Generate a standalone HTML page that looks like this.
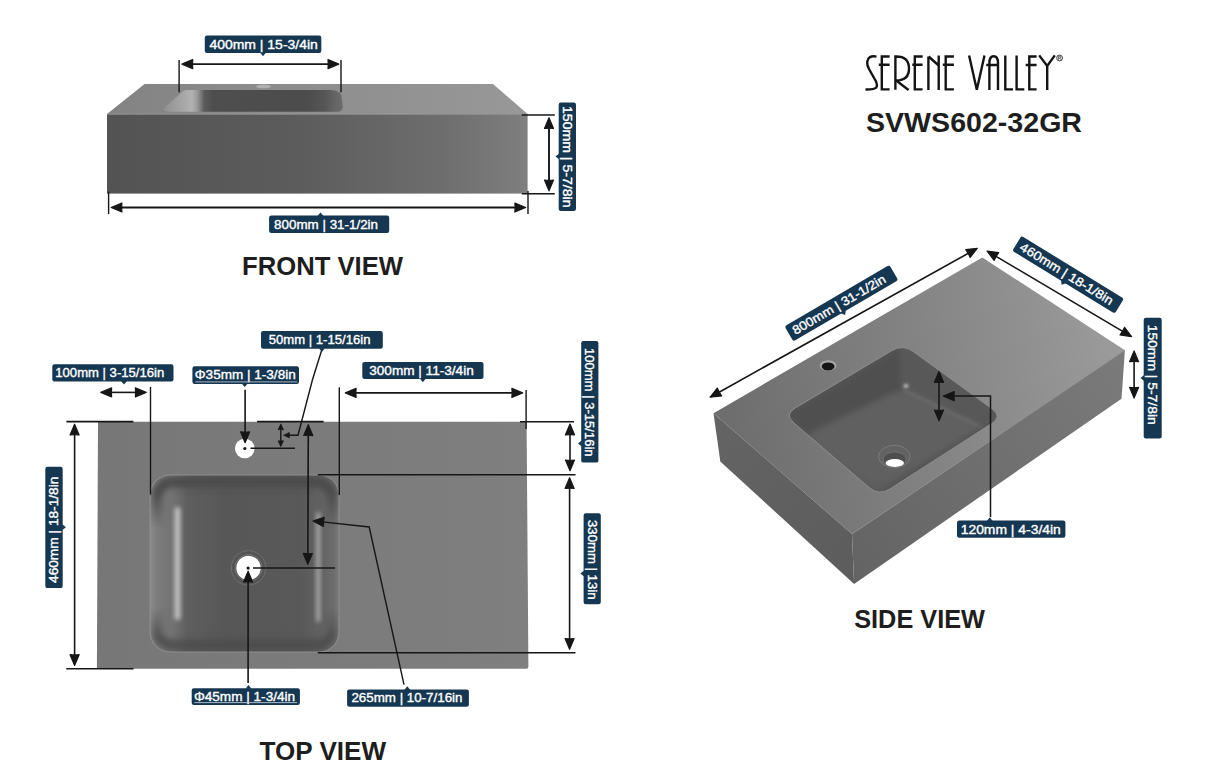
<!DOCTYPE html>
<html><head><meta charset="utf-8"><style>
html,body{margin:0;padding:0;background:#fff;width:1214px;height:782px;overflow:hidden}
svg{display:block}
text{font-family:"Liberation Sans",sans-serif}
</style></head><body>
<svg width="1214" height="782" viewBox="0 0 1214 782">

<defs>
 <linearGradient id="ftop" x1="107" y1="0" x2="527" y2="0" gradientUnits="userSpaceOnUse"><stop offset="0" stop-color="#838383"/><stop offset="0.5" stop-color="#8e8e8e"/><stop offset="1" stop-color="#989898"/></linearGradient>
 <linearGradient id="fbasin" x1="163" y1="0" x2="343" y2="0" gradientUnits="userSpaceOnUse">
  <stop offset="0" stop-color="#909090"/><stop offset="0.1" stop-color="#a4a4a4"/><stop offset="0.16" stop-color="#b2b2b2"/><stop offset="0.19" stop-color="#9a9a9a"/>
  <stop offset="0.23" stop-color="#5a5a5a"/><stop offset="0.28" stop-color="#4e4e4e"/><stop offset="0.8" stop-color="#4c4c4c"/><stop offset="0.9" stop-color="#565656"/><stop offset="0.96" stop-color="#666"/><stop offset="1" stop-color="#6c6c6c"/></linearGradient>
 <linearGradient id="fface" x1="0" y1="0" x2="1" y2="0"><stop offset="0" stop-color="#535353"/><stop offset="0.45" stop-color="#5c5c5c"/><stop offset="0.8" stop-color="#6e6e6e"/><stop offset="0.97" stop-color="#7c7c7c"/><stop offset="1" stop-color="#808080"/></linearGradient>
</defs>
<polygon points="144.6,84 493,84 527.6,114 107,114" fill="url(#ftop)"/>
<path d="M186.5 90.1 L330 90.1 Q340.5 90.5 341.5 96 L342.8 107 Q343 111.7 336.8 111.7 L169 111.7 Q161.5 111 164 108 L181 93 Q183.5 90.3 186.5 90.1Z" fill="url(#fbasin)"/>
<ellipse cx="263.5" cy="86.4" rx="7.5" ry="1.8" fill="#b0b0b0"/>
<rect x="107" y="114" width="420.6" height="79.6" fill="url(#fface)"/>
<line x1="107" y1="114.2" x2="527.6" y2="114.2" stroke="#9a9a9a" stroke-width="0.9"/>

<g stroke="#161616" fill="#161616">
<line x1="190.8" y1="64.1" x2="329.9" y2="64.1" stroke-width="1.9"/>
<path d="M181.92 64.1L192.72 59.58Q192.18 64.1 192.72 68.62Z" stroke-width="1.2" stroke-linejoin="round"/>
<path d="M338.78 64.1L327.98 68.62Q328.52 64.1 327.98 59.58Z" stroke-width="1.2" stroke-linejoin="round"/>
<line x1="179.1" y1="60" x2="179.1" y2="92.2" stroke-width="1.4"/>
<line x1="341" y1="60" x2="341" y2="92.2" stroke-width="1.4"/>
<line x1="120" y1="207.5" x2="516.8" y2="207.5" stroke-width="1.9"/>
<path d="M111.12 207.5L121.92 202.98Q121.38 207.5 121.92 212.02Z" stroke-width="1.2" stroke-linejoin="round"/>
<path d="M525.68 207.5L514.88 212.02Q515.42 207.5 514.88 202.98Z" stroke-width="1.2" stroke-linejoin="round"/>
<line x1="108.6" y1="191.5" x2="108.6" y2="214" stroke-width="1.4"/>
<line x1="528" y1="191" x2="528" y2="214" stroke-width="1.4"/>
<line x1="549" y1="126.6" x2="549" y2="181.9" stroke-width="1.9"/>
<path d="M549 117.72L553.52 128.52Q549 127.98 544.48 128.52Z" stroke-width="1.2" stroke-linejoin="round"/>
<path d="M549 190.78L544.48 179.98Q549 180.52 553.52 179.98Z" stroke-width="1.2" stroke-linejoin="round"/>
<line x1="521.8" y1="115" x2="554.8" y2="115" stroke-width="1.4"/>
<line x1="521.8" y1="193.8" x2="554.8" y2="193.8" stroke-width="1.4"/>
</g>
<g transform="translate(263.05 44.3) rotate(0)"><rect x="-58.25" y="-8.7" width="116.5" height="17.4" rx="2.2" fill="#163751"/><path d="M-3.05 8.2L-0.05 11.9L2.95 8.2Z" fill="#163751"/><text x="-53.65" y="4.3" textLength="108.4" lengthAdjust="spacingAndGlyphs" font-size="12.5" fill="#fff" stroke="#fff" stroke-width="0.35">400mm | 15-3/4in</text></g>
<g transform="translate(329.15 224.3) rotate(0)"><rect x="-60.05" y="-8.7" width="120.1" height="17.4" rx="2.2" fill="#163751"/><path d="M-11.65 -8.2L-8.65 -11.9L-5.65 -8.2Z" fill="#163751"/><text x="-55.05" y="4.3" textLength="103.9" lengthAdjust="spacingAndGlyphs" font-size="12.5" fill="#fff" stroke="#fff" stroke-width="0.35">800mm | 31-1/2in</text></g>
<g transform="translate(567.35 156.8) rotate(90)"><rect x="-54.2" y="-8.65" width="108.4" height="17.3" rx="2.2" fill="#163751"/><path d="M-3.3 8.15L-0.3 11.85L2.7 8.15Z" fill="#163751"/><text x="-50.8" y="4.3" textLength="101.5" lengthAdjust="spacingAndGlyphs" font-size="12.5" fill="#fff" stroke="#fff" stroke-width="0.35">150mm | 5-7/8in</text></g>
<text x="242" y="274.8" textLength="161" lengthAdjust="spacingAndGlyphs" font-size="26.3" font-weight="bold" fill="#1e1e1e">FRONT VIEW</text>
<text x="259.5" y="759.6" textLength="126.5" lengthAdjust="spacingAndGlyphs" font-size="26.3" font-weight="bold" fill="#1e1e1e">TOP VIEW</text>
<text x="854.2" y="627.5" textLength="130.8" lengthAdjust="spacingAndGlyphs" font-size="26.5" font-weight="bold" fill="#1e1e1e">SIDE VIEW</text>
<text x="866" y="131.8" textLength="216" lengthAdjust="spacingAndGlyphs" font-size="27.8" font-weight="bold" fill="#1e1e1e">SVWS602-32GR</text>

<defs>
 <linearGradient id="tslab" x1="0" y1="0" x2="1" y2="0"><stop offset="0" stop-color="#777"/><stop offset="1" stop-color="#7f7f7f"/></linearGradient>
 <filter id="bl3" x="-20%" y="-20%" width="140%" height="140%"><feGaussianBlur stdDeviation="3"/></filter>
 <filter id="bl2" x="-50%" y="-20%" width="200%" height="140%"><feGaussianBlur stdDeviation="2"/></filter>
 <filter id="bl5" x="-20%" y="-20%" width="140%" height="140%"><feGaussianBlur stdDeviation="5"/></filter>
 <linearGradient id="gband" x1="0" y1="475" x2="0" y2="652" gradientUnits="userSpaceOnUse"><stop offset="0" stop-color="#fff"/><stop offset="0.1" stop-color="#fff"/><stop offset="0.3" stop-color="#000"/><stop offset="0.75" stop-color="#000"/><stop offset="0.92" stop-color="#ddd"/><stop offset="1" stop-color="#ddd"/></linearGradient>
 <mask id="mband" maskUnits="userSpaceOnUse" x="140" y="465" width="210" height="200"><rect x="140" y="465" width="210" height="200" fill="url(#gband)"/></mask>
 <clipPath id="cbowl"><rect x="150" y="475" width="189" height="177" rx="20"/></clipPath>
</defs>
<path d="M98 421.7 L526.6 421.7 L528.4 666.5 Q528.4 668.7 526.2 668.7 L96.9 668.7Z" fill="url(#tslab)"/>
<linearGradient id="bwx" x1="150" y1="0" x2="339" y2="0" gradientUnits="userSpaceOnUse">
 <stop offset="0" stop-color="#8a8a8a"/><stop offset="0.04" stop-color="#7c7c7c"/><stop offset="0.12" stop-color="#727272"/><stop offset="0.2" stop-color="#5e5e5e"/><stop offset="0.4" stop-color="#575757"/>
 <stop offset="0.8" stop-color="#595959"/><stop offset="0.9" stop-color="#626262"/><stop offset="0.97" stop-color="#6c6c6c"/><stop offset="1" stop-color="#7a7a7a"/></linearGradient>
<rect x="150" y="475" width="189" height="177" rx="20" fill="url(#bwx)"/>
<g clip-path="url(#cbowl)">
 <rect x="157" y="482" width="175" height="163" rx="15" fill="none" stroke="#4c4c4c" stroke-width="11" filter="url(#bl3)" mask="url(#mband)"/>
 <rect x="174.5" y="507" width="6" height="113" rx="3" fill="#c0c0c0" filter="url(#bl2)"/>
 <rect x="316" y="512" width="4.5" height="110" rx="2.2" fill="#a4a4a4" filter="url(#bl2)"/>
</g>
<rect x="150" y="475" width="189" height="177" rx="20" fill="none" stroke="#929292" stroke-width="0.9"/>
<circle cx="248.5" cy="567.9" r="17.2" fill="#555" stroke="#707070" stroke-width="1"/><circle cx="248.5" cy="567.9" r="13.5" fill="none" stroke="#7a7a7a" stroke-width="0.8"/>
<circle cx="248.5" cy="567.9" r="12.2" fill="#fff"/>
<circle cx="244.8" cy="448.5" r="9.8" fill="#fff"/>

<g stroke="#161616" fill="#161616">
<circle cx="244.8" cy="448.5" r="1.6" stroke="none"/>
<circle cx="248.1" cy="568.1" r="1.6" stroke="none"/>
<line x1="66.4" y1="421.6" x2="133.4" y2="421.6" stroke-width="1.6"/>
<line x1="257.1" y1="421.6" x2="323.6" y2="421.6" stroke-width="1.6"/>
<line x1="520" y1="421.8" x2="574" y2="421.8" stroke-width="1.6"/>
<line x1="66.3" y1="668.7" x2="133.5" y2="668.7" stroke-width="1.6"/>
<line x1="74.6" y1="433.1" x2="74.6" y2="656.6" stroke-width="1.6"/>
<path d="M74.6 424.22L79.12 435.02Q74.6 434.48 70.08 435.02Z" stroke-width="1.2" stroke-linejoin="round"/>
<path d="M74.6 665.48L70.08 654.68Q74.6 655.22 79.12 654.68Z" stroke-width="1.2" stroke-linejoin="round"/>
<line x1="109.7" y1="392.4" x2="137.3" y2="392.4" stroke-width="1.6"/>
<path d="M100.82 392.4L111.62 387.88Q111.08 392.4 111.62 396.92Z" stroke-width="1.2" stroke-linejoin="round"/>
<path d="M146.18 392.4L135.38 396.92Q135.92 392.4 135.38 387.88Z" stroke-width="1.2" stroke-linejoin="round"/>
<line x1="150.5" y1="387" x2="150.5" y2="494.6" stroke-width="1.4"/>
<line x1="245.1" y1="389.7" x2="245.1" y2="433.8" stroke-width="1.6"/>
<path d="M245.1 442.68L240.58 431.88Q245.1 432.42 249.62 431.88Z" stroke-width="1.2" stroke-linejoin="round"/>
<line x1="250.5" y1="448.3" x2="295" y2="448.3" stroke-width="1.4"/>
<line x1="280.8" y1="428.7" x2="280.8" y2="441.8" stroke-width="1.4"/>
<path d="M280.8 423.86L283.56 429.76Q280.8 429.47 278.04 429.76Z" stroke-width="0.6" stroke-linejoin="round"/>
<path d="M280.8 446.64L278.04 440.74Q280.8 441.03 283.56 440.74Z" stroke-width="0.6" stroke-linejoin="round"/>
<polyline points="312.4,380 298,435.2 288,435.2" fill="none" stroke-width="1.4"/>
<path d="M283.56 435.2L289.46 432.44Q289.17 435.2 289.46 437.96Z" stroke-width="0.6" stroke-linejoin="round"/>
<line x1="312.4" y1="380" x2="321.6" y2="350.5" stroke-width="1.4"/>
<line x1="308.27" y1="433.6" x2="307.83" y2="555.4" stroke-width="1.6"/>
<path d="M308.3 424.72L312.78 435.54Q308.26 434.98 303.74 435.5Z" stroke-width="1.2" stroke-linejoin="round"/>
<path d="M307.8 564.28L303.32 553.46Q307.84 554.02 312.36 553.5Z" stroke-width="1.2" stroke-linejoin="round"/>
<line x1="339.3" y1="387.2" x2="339.3" y2="495" stroke-width="1.4"/>
<line x1="354.2" y1="392.9" x2="513.8" y2="392.9" stroke-width="1.6"/>
<path d="M345.32 392.9L356.12 388.38Q355.58 392.9 356.12 397.42Z" stroke-width="1.2" stroke-linejoin="round"/>
<path d="M522.68 392.9L511.88 397.42Q512.42 392.9 511.88 388.38Z" stroke-width="1.2" stroke-linejoin="round"/>
<line x1="526.1" y1="390" x2="526.1" y2="429" stroke-width="1.4"/>
<line x1="570" y1="432.9" x2="570" y2="461.9" stroke-width="1.6"/>
<path d="M570 424.02L574.52 434.82Q570 434.28 565.48 434.82Z" stroke-width="1.2" stroke-linejoin="round"/>
<path d="M570 470.78L565.48 459.98Q570 460.52 574.52 459.98Z" stroke-width="1.2" stroke-linejoin="round"/>
<line x1="317.8" y1="474.8" x2="575.5" y2="474.8" stroke-width="1.4"/>
<line x1="317.8" y1="652.8" x2="575.5" y2="652.8" stroke-width="1.4"/>
<line x1="569.6" y1="486.6" x2="569.6" y2="640.4" stroke-width="1.6"/>
<path d="M569.6 477.72L574.12 488.52Q569.6 487.98 565.08 488.52Z" stroke-width="1.2" stroke-linejoin="round"/>
<path d="M569.6 649.28L565.08 638.48Q569.6 639.02 574.12 638.48Z" stroke-width="1.2" stroke-linejoin="round"/>
<line x1="253" y1="568" x2="335" y2="568" stroke-width="1.4"/>
<line x1="248.1" y1="683" x2="248.1" y2="580.1" stroke-width="1.6"/>
<path d="M248.1 571.22L252.62 582.02Q248.1 581.48 243.58 582.02Z" stroke-width="1.2" stroke-linejoin="round"/>
<polyline points="404,684.7 369.2,527 320,521.6" fill="none" stroke-width="1.4"/>
<path d="M313.02 520.96L324.17 517.4Q323.24 521.86 323.38 526.41Z" stroke-width="1.2" stroke-linejoin="round"/>
</g>
<g transform="translate(112.9 372.85) rotate(0)"><rect x="-60.6" y="-8.55" width="121.2" height="17.1" rx="2.2" fill="#163751"/><path d="M8.1 8.05L11.1 11.75L14.1 8.05Z" fill="#163751"/><text x="-57.6" y="4.3" textLength="108.9" lengthAdjust="spacingAndGlyphs" font-size="12.5" fill="#fff" stroke="#fff" stroke-width="0.35">100mm | 3-15/16in</text></g>
<g transform="translate(245.7 375.05) rotate(0)"><rect x="-53.3" y="-8.85" width="106.6" height="17.7" rx="2.2" fill="#163751"/><path d="M-4 8.35L-1 12.05L2 8.35Z" fill="#163751"/><text x="-50.9" y="4.3" textLength="100.9" lengthAdjust="spacingAndGlyphs" font-size="12.5" fill="#fff" stroke="#fff" stroke-width="0.35">&#934;35mm | 1-3/8in</text><line x1="-50.4" y1="6.85" x2="51.5" y2="6.85" stroke="#b8c4ce" stroke-width="0.9"/></g>
<g transform="translate(321.9 339.9) rotate(0)"><rect x="-60.9" y="-8.8" width="121.8" height="17.6" rx="2.2" fill="#163751"/><path d="M-3 8.3L0 12L3 8.3Z" fill="#163751"/><text x="-53.2" y="4.3" textLength="101.7" lengthAdjust="spacingAndGlyphs" font-size="12.5" fill="#fff" stroke="#fff" stroke-width="0.35">50mm | 1-15/16in</text></g>
<g transform="translate(422.9 370.45) rotate(0)"><rect x="-60.6" y="-8.55" width="121.2" height="17.1" rx="2.2" fill="#163751"/><path d="M-3.1 8.05L-0.1 11.75L2.9 8.05Z" fill="#163751"/><text x="-53.7" y="4.3" textLength="104.5" lengthAdjust="spacingAndGlyphs" font-size="12.5" fill="#fff" stroke="#fff" stroke-width="0.35">300mm | 11-3/4in</text></g>
<g transform="translate(589.8 401.8) rotate(90)"><rect x="-60.8" y="-8.6" width="121.6" height="17.2" rx="2.2" fill="#163751"/><path d="M38.8 8.1L41.8 11.8L44.8 8.1Z" fill="#163751"/><text x="-53.9" y="4.3" textLength="108.7" lengthAdjust="spacingAndGlyphs" font-size="12.5" fill="#fff" stroke="#fff" stroke-width="0.35">100mm | 3-15/16in</text></g>
<g transform="translate(54 527.45) rotate(-90)"><rect x="-60.65" y="-8.7" width="121.3" height="17.4" rx="2.2" fill="#163751"/><path d="M-2.85 8.2L0.15 11.9L3.15 8.2Z" fill="#163751"/><text x="-55.55" y="4.3" textLength="106.4" lengthAdjust="spacingAndGlyphs" font-size="12.5" fill="#fff" stroke="#fff" stroke-width="0.35">460mm | 18-1/8in</text></g>
<g transform="translate(592.2 558.75) rotate(90)"><rect x="-45.55" y="-8.6" width="91.1" height="17.2" rx="2.2" fill="#163751"/><path d="M11.75 8.1L14.75 11.8L17.75 8.1Z" fill="#163751"/><text x="-38.75" y="4.3" textLength="79.5" lengthAdjust="spacingAndGlyphs" font-size="12.5" fill="#fff" stroke="#fff" stroke-width="0.35">330mm | 13in</text></g>
<g transform="translate(245.8 696.6) rotate(0)"><rect x="-54.1" y="-8.4" width="108.2" height="16.8" rx="2.2" fill="#163751"/><path d="M-0.3 -7.9L2.7 -11.6L5.7 -7.9Z" fill="#163751"/><text x="-51.9" y="4.3" textLength="101.2" lengthAdjust="spacingAndGlyphs" font-size="12.5" fill="#fff" stroke="#fff" stroke-width="0.35">&#934;45mm | 1-3/4in</text><line x1="-51.4" y1="6" x2="51.4" y2="6" stroke="#b8c4ce" stroke-width="0.9"/></g>
<g transform="translate(408 698.05) rotate(0)"><rect x="-60.9" y="-8.65" width="121.8" height="17.3" rx="2.2" fill="#163751"/><path d="M-3.7 -8.15L-0.7 -11.85L2.3 -8.15Z" fill="#163751"/><text x="-56.6" y="4.3" textLength="111.1" lengthAdjust="spacingAndGlyphs" font-size="12.5" fill="#fff" stroke="#fff" stroke-width="0.35">265mm | 10-7/16in</text></g>

<defs>
 <linearGradient id="stop" x1="1110" y1="345" x2="730" y2="415" gradientUnits="userSpaceOnUse"><stop offset="0" stop-color="#9a9a9a"/><stop offset="0.5" stop-color="#838383"/><stop offset="1" stop-color="#6e6e6e"/></linearGradient>
 <linearGradient id="sleft" x1="713" y1="413" x2="854" y2="584" gradientUnits="userSpaceOnUse"><stop offset="0" stop-color="#646464"/><stop offset="1" stop-color="#5c5c5c"/></linearGradient>
 <linearGradient id="sright" x1="852" y1="560" x2="1124" y2="370" gradientUnits="userSpaceOnUse"><stop offset="0" stop-color="#646464"/><stop offset="1" stop-color="#7a7a7a"/></linearGradient>
 <clipPath id="csb"><path d="M913.5 351.7L992.0 408.8Q1002.5 416.5 991.6 423.5L889.9 489.0Q879.0 496.0 869.1 487.5L793.9 423.0Q784.0 414.5 795.2 407.9L891.8 350.6Q903.0 344.0 913.5 351.7Z"/></clipPath>
 <filter id="bls" x="-20%" y="-20%" width="140%" height="140%"><feGaussianBlur stdDeviation="3.5"/></filter>
 <filter id="bls1" x="-50%" y="-50%" width="200%" height="200%"><feGaussianBlur stdDeviation="1.5"/></filter>
</defs>
<polygon points="982.3,257.4 1124.9,350.2 852,534.1 713.5,413.2" fill="url(#stop)"/>
<polygon points="713.5,413.2 852,534.1 854.1,583.9 720.3,461.6" fill="url(#sleft)"/>
<polygon points="852,534.1 1124.9,350.2 1121.5,398.8 854.1,583.9" fill="url(#sright)"/>
<polyline points="852,534.1 1124.9,350.2" fill="none" stroke="#8a8a8a" stroke-width="0.7"/>
<path d="M913.5 351.7L992.0 408.8Q1002.5 416.5 991.6 423.5L889.9 489.0Q879.0 496.0 869.1 487.5L793.9 423.0Q784.0 414.5 795.2 407.9L891.8 350.6Q903.0 344.0 913.5 351.7Z" fill="#5c5c5c"/>
<g clip-path="url(#csb)">
 <path d="M784 414.5 L903 344 L903 390 L806 436Z" fill="#505050" filter="url(#bls)"/>
 <path d="M903 344 L1002.5 416.5 L984 428 L903 390Z" fill="#585858" filter="url(#bls)"/>
 <path d="M915.7 395.9L971.3 422.1Q984.0 428.0 971.8 434.9L889.2 482.1Q877.0 489.0 865.8 480.6L817.2 444.4Q806.0 436.0 818.6 430.0L890.4 396.0Q903.0 390.0 915.7 395.9Z" fill="#616161" filter="url(#bls)"/>
 <ellipse cx="906" cy="386" rx="2.5" ry="2" fill="#c8c8c8" filter="url(#bls1)"/>
 <path d="M903 390 L983 428" stroke="#6a6a6a" stroke-width="3" filter="url(#bls1)"/>
 <path d="M995 424 L884 494" stroke="#535353" stroke-width="8" filter="url(#bls)"/>
</g>
<path d="M913.5 351.7L992.0 408.8Q1002.5 416.5 991.6 423.5L889.9 489.0Q879.0 496.0 869.1 487.5L793.9 423.0Q784.0 414.5 795.2 407.9L891.8 350.6Q903.0 344.0 913.5 351.7Z" fill="none" stroke="#8e8e8e" stroke-width="1"/>
<ellipse cx="894.4" cy="456.5" rx="15.8" ry="11.2" fill="#626262" stroke="#7e7e7e" stroke-width="0.9"/>
<ellipse cx="894.6" cy="459.5" rx="11.5" ry="7.6" fill="#4e4e4e" stroke="#707070" stroke-width="1"/>
<ellipse cx="894.8" cy="463" rx="9.2" ry="3.9" fill="#fff"/>
<ellipse cx="828.1" cy="365.6" rx="8.2" ry="5.3" fill="#a8a8a8"/>
<ellipse cx="828.1" cy="366.4" rx="6.4" ry="4" fill="#141414"/>

<g stroke="#161616" fill="#161616">
<line x1="717.79" y1="392.93" x2="969.61" y2="252.57" stroke-width="1.6"/>
<path d="M710.03 397.25L717.26 388.04Q718.99 392.25 721.66 395.94Z" stroke-width="1.2" stroke-linejoin="round"/>
<path d="M977.37 248.25L970.14 257.46Q968.41 253.25 965.74 249.56Z" stroke-width="1.2" stroke-linejoin="round"/>
<line x1="994.76" y1="255.59" x2="1123.94" y2="332.11" stroke-width="1.6"/>
<path d="M987.12 251.07L998.72 252.68Q995.95 256.3 994.11 260.46Z" stroke-width="1.2" stroke-linejoin="round"/>
<path d="M1131.58 336.63L1119.98 335.02Q1122.75 331.4 1124.59 327.24Z" stroke-width="1.2" stroke-linejoin="round"/>
<line x1="1134.1" y1="359.8" x2="1134.1" y2="389.2" stroke-width="1.6"/>
<path d="M1134.1 350.92L1138.62 361.72Q1134.1 361.18 1129.58 361.72Z" stroke-width="1.2" stroke-linejoin="round"/>
<path d="M1134.1 398.08L1129.58 387.28Q1134.1 387.82 1138.62 387.28Z" stroke-width="1.2" stroke-linejoin="round"/>
<line x1="939" y1="380.4" x2="939" y2="411.9" stroke-width="1.6"/>
<path d="M939 371.52L943.52 382.32Q939 381.78 934.48 382.32Z" stroke-width="1.2" stroke-linejoin="round"/>
<path d="M939 420.78L934.48 409.98Q939 410.52 943.52 409.98Z" stroke-width="1.2" stroke-linejoin="round"/>
<polyline points="950,396.1 990.5,396.1 990.5,517.2" fill="none" stroke-width="1.5"/>
<path d="M943.42 396.1L954.22 391.58Q953.68 396.1 954.22 400.62Z" stroke-width="1.2" stroke-linejoin="round"/>
</g>
<g transform="translate(841.4 303.2) rotate(-30.3)"><rect x="-60.75" y="-8.75" width="121.5" height="17.5" rx="2.2" fill="#163751"/><path d="M-5.7 8.25L-2.7 11.95L0.3 8.25Z" fill="#163751"/><text x="-55.7" y="4.3" textLength="105.7" lengthAdjust="spacingAndGlyphs" font-size="12.5" fill="#fff" stroke="#fff" stroke-width="0.35">800mm | 31-1/2in</text></g>
<g transform="translate(1068.1 274.7) rotate(31.5)"><rect x="-60.1" y="-8.75" width="120.2" height="17.5" rx="2.2" fill="#163751"/><path d="M-3.3 8.25L-0.3 11.95L2.7 8.25Z" fill="#163751"/><text x="-55.1" y="4.3" textLength="106.8" lengthAdjust="spacingAndGlyphs" font-size="12.5" fill="#fff" stroke="#fff" stroke-width="0.35">460mm | 18-1/8in</text></g>
<g transform="translate(1152.7 378.1) rotate(90)"><rect x="-60.3" y="-9" width="120.6" height="18" rx="2.2" fill="#163751"/><path d="M-3 8.5L0 12.2L3 8.5Z" fill="#163751"/><text x="-53.4" y="4.3" textLength="100" lengthAdjust="spacingAndGlyphs" font-size="12.5" fill="#fff" stroke="#fff" stroke-width="0.35">150mm | 5-7/8in</text></g>
<g transform="translate(1011.2 529.2) rotate(0)"><rect x="-54.2" y="-8.6" width="108.4" height="17.2" rx="2.2" fill="#163751"/><path d="M-24.4 -8.1L-21.4 -11.8L-18.4 -8.1Z" fill="#163751"/><text x="-50.5" y="4.3" textLength="100.1" lengthAdjust="spacingAndGlyphs" font-size="12.5" fill="#fff" stroke="#fff" stroke-width="0.35">120mm | 4-3/4in</text></g>

<g fill="none" stroke="#141414" stroke-width="2.4" stroke-linecap="butt" stroke-miterlimit="2">
 <path d="M876.5 56.6 Q868 55 867.2 62 Q867 65 869 69 L875.5 80.5 Q877.8 85 876.3 87.5 Q874.5 89.6 865.5 89.5"/>
 <path d="M889.6 56.5 H881.8 V89.4 H889.6 M878.8 64.8 H889.6"/>
 <path d="M895.4 89.8 V56.5 Q909 56 909 68.5 Q909 80.5 896.3 80.5"/><path d="M896.5 80.8 L908.6 90"/>
 <path d="M922.6 56.5 H914.8 V89.4 H922.6 M912.3 64.8 H922.6"/>
 <path d="M928.4 90 V56.5 M928.6 56.5 L938.7 65.5 M938.7 55.5 V90"/>
 <path d="M953.9 56.5 H945.7 V89.4 H953.9 M942.8 64.8 H953.9"/>
 <path d="M969.1 55.4 L976.8 89.8 L984.5 55.4"/>
 <path d="M989.4 90 V63 Q989.4 56.2 993.7 56.2 Q998 56.2 998 63 V90 M986.3 65 H998"/>
 <path d="M1005.3 55.4 V89.4 H1013"/>
 <path d="M1016.6 55.4 V89.4 H1024.3"/>
 <path d="M1036.6 56.5 H1029.3 V89.4 H1036.6 M1025.7 65 H1036.6"/>
 <path d="M1039.2 55.4 L1047.2 66 L1054.8 55.4 M1047.2 65.5 V90"/>
 <circle cx="1059.6" cy="58" r="2.9" stroke-width="0.8"/><path d="M1058.6 59.8 V56.3 H1059.8 Q1060.9 56.3 1060.9 57.2 Q1060.9 58.1 1059.8 58.1 H1058.6 M1059.8 58.1 L1061 59.8" stroke-width="0.6"/>
</g>

</svg></body></html>
